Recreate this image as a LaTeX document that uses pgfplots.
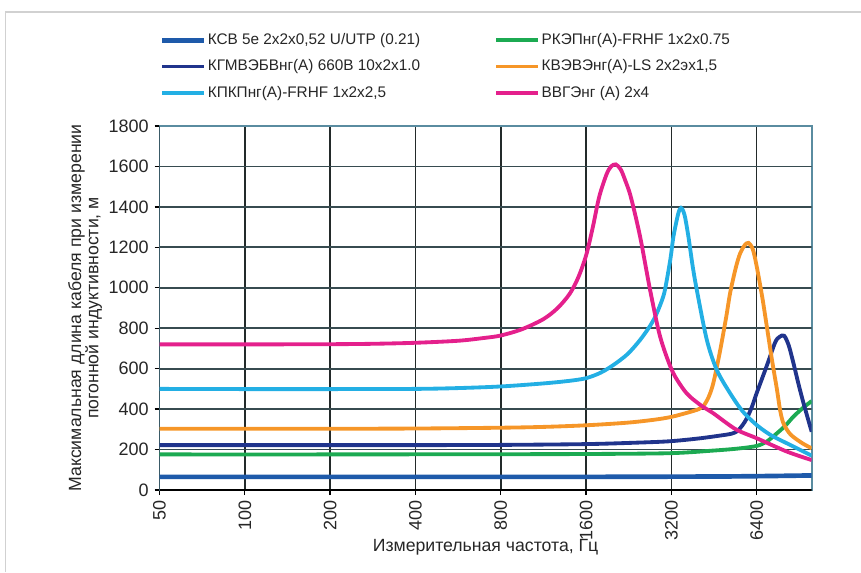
\documentclass[border=0pt]{standalone}
\usepackage{pgfplots}
\pgfplotsset{compat=1.18}
\usepackage{fontspec}
\setmainfont{Liberation Sans}

\definecolor{cksv}{RGB}{30,90,170}
\definecolor{cgmv}{RGB}{32,52,140}
\definecolor{cpk}{RGB}{35,175,228}
\definecolor{crke}{RGB}{28,170,82}
\definecolor{ckve}{RGB}{246,150,40}
\definecolor{cvvg}{RGB}{228,32,140}
\definecolor{gridh}{RGB}{55,75,80}
\definecolor{vgrid}{RGB}{35,42,42}
\definecolor{framecol}{RGB}{90,140,160}

\begin{document}
\begin{tikzpicture}
\path[use as bounding box] (0,0) rectangle (516.6pt,343.2pt);
\draw[black!18, line width=0.8pt] (3.3pt,0) |- (516.6pt,336pt);
\begin{axis}[
    at={(95.7pt,49.2pt)}, anchor=south west,
    scale only axis,
    width=391.3pt, height=218.4pt,
    xmode=log, log basis x=2,
    xmin=50, xmax=10000,
    ymin=0, ymax=1800,
    xtick={50,100,200,400,800,1600,3200,6400},
    xticklabels={50,100,200,400,800,1600,3200,6400},
    ytick={0,200,400,600,800,1000,1200,1400,1600,1800},
    /pgf/number format/1000 sep={},
    axis line style={framecol, line width=1pt},
    tick align=outside, major tick length=3pt,
    tick style={black, line width=0.8pt},
    xtick pos=bottom, ytick pos=left,
    grid=major,
    x grid style={color=vgrid, line width=0.9pt},
    y grid style={color=gridh, line width=1pt},
    /pgf/number format/assume math mode=true,
    ticklabel style={font=\fontsize{10.8}{12}\selectfont, text=black!85},
    x tick label style={rotate=90, anchor=east},
    xlabel={Измерительная частота, Гц},
    ylabel={Максимальная длина кабеля при измерении\\погонной индуктивности, м},
    label style={font=\fontsize{10.6}{10.4}\selectfont, text=black!85},
    ylabel style={align=center, yshift=-3pt},
    xlabel style={yshift=8pt},
    legend columns=2,
    legend cell align=left,
    legend style={at={(0.0,1.26)}, anchor=north west, draw=none, fill=none,
        inner sep=0pt, font=\fontsize{9.2}{10}\selectfont, text=black!85,
        row sep=5.6pt,
        nodes={inner sep=1pt}},
    legend image code/.code={\draw[#1] (0pt,0pt) -- (25pt,0pt);},
    every axis plot/.append style={line width=2.3pt, smooth, tension=0.5},
]

% horizontal grid lines as thin filled bands, black left and bottom axis lines
\pgfplotsinvokeforeach{200,400,600,800,1000,1200,1400,1600}{
  \fill[gridh] (axis cs:50,#1) ++(0pt,-0.5pt) -- ++(391.3pt,0pt) -- ++(0pt,1pt) -- ++(-391.3pt,0pt) -- cycle;
}
\fill[framecol] (axis cs:50,1800) ++(0pt,-0.5pt) -- ++(391.3pt,0pt) -- ++(0pt,1pt) -- ++(-391.3pt,0pt) -- cycle;
\draw[black, line width=1pt] (axis cs:50,1800) -- (axis cs:50,0) -- (axis cs:10000,0);

\addplot[cksv, line width=2.8pt] coordinates {
(50,65)(400,65)(1600,65)(3200,66)(5000,67)(7000,69)(10000,72)
};
\addlegendentry{\makebox[171pt][l]{КСВ 5e 2x2x0,52 U/UTP (0.21)}}

\addplot[crke] coordinates {
(50,176)(200,176)(800,177)(1600,178)(3155,182)(4500,195)(5500,205)
(6400,218)(6947,240)(7537,280)(8100,320)(8624,363)(9300,405)(10000,440)
};
\addlegendentry{РКЭПнг(А)-FRHF 1x2x0.75}

\addplot[cgmv] coordinates {
(50,222)(400,222)(800,223)(1600,227)(2400,234)(3155,241)(4000,255)
(4800,270)(5200,278)(5450,290)(5700,320)(5906,355)(6150,410)(6400,480)
(6947,615)(7434,730)(7700,757)(7995,763)(8300,715)(8624,627)(9000,520)
(9360,429)(10000,288)
};
\addlegendentry{\makebox[171pt][l]{КГМВЭБВнг(А) 660В 10x2x1.0}}

\addplot[ckve] coordinates {
(50,303)(200,303)(400,304)(800,308)(1131,312)(1600,320)(2240,333)
(2800,348)(3211,362)(3700,385)(4000,400)(4150,415)(4330,460)(4500,530)
(4754,690)(5000,860)(5157,975)(5400,1100)(5592,1170)(5800,1210)
(5984,1222)(6200,1190)(6400,1105)(6700,950)(6947,808)(7250,640)
(7537,500)(7750,390)(7950,330)(8300,285)(8624,262)(9300,230)(10000,206)
};
\addlegendentry{КВЭВЭнг(А)-LS 2x2эx1,5}

\addplot[cpk] coordinates {
(50,500)(100,499)(200,499)(400,500)(566,504)(800,512)(1131,527)
(1400,540)(1600,553)(1800,580)(1997,618)(2240,672)(2481,742)(2700,815)
(2842,874)(3000,960)(3083,1039)(3180,1150)(3253,1253)(3380,1365)
(3462,1395)(3560,1360)(3674,1253)(3800,1110)(3934,989)(4267,742)
(4628,593)(5157,478)(5700,390)(6400,321)(7200,270)(8175,231)(10000,170)
};
\addlegendentry{\makebox[171pt][l]{КПКПнг(А)-FRHF 1x2x2,5}}

\addplot[cvvg] coordinates {
(50,720)(100,720)(200,721)(283,723)(400,728)(566,738)(700,752)(800,764)
(950,795)(1131,845)(1270,900)(1400,970)(1500,1050)(1600,1160)(1690,1300)
(1780,1450)(1888,1560)(1960,1600)(2037,1610)(2120,1585)(2200,1530)
(2300,1450)(2481,1253)(2691,989)(2920,758)(3211,593)(3500,505)
(3725,461)(4100,415)(4501,379)(5400,300)(6400,256)(8175,190)(10000,148)
};
\addlegendentry{ВВГЭнг (А) 2x4}

\end{axis}
\end{tikzpicture}
\end{document}
